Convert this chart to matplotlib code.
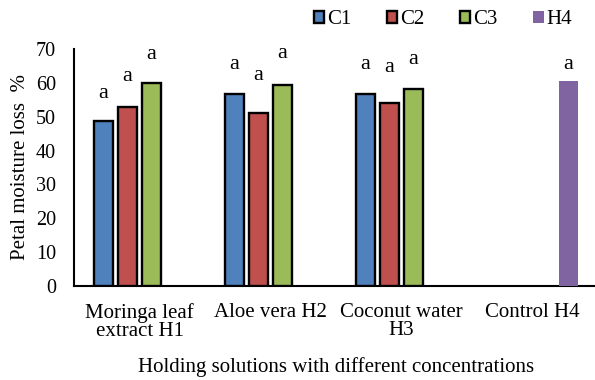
import numpy as np
import matplotlib.pyplot as plt
from matplotlib.patches import Patch

plt.rcParams['font.family'] = ['Liberation Serif', 'DejaVu Serif']

categories = ["Moringa leaf\nextract H1", "Aloe vera H2", "Coconut water\nH3", "Control H4"]
series = ["C1", "C2", "C3", "H4"]
values = {
    "C1": [48.8, 56.6, 56.7, None],
    "C2": [53.0, 51.0, 54.1, None],
    "C3": [60.0, 59.3, 58.1, None],
    "H4": [None, None, None, 60.6],
}
# heights of the significance letters
letter_y = {
    "C1": [57.0, 65.3, 65.3, None],
    "C2": [61.8, 62.3, 64.5, None],
    "C3": [68.3, 68.8, 66.9, None],
    "H4": [None, None, None, 65.3],
}
letters = "a"
colors = {"C1": "#4F81BD", "C2": "#C0504D", "C3": "#9BBB59", "H4": "#8064A2"}
edges = {"C1": "black", "C2": "black", "C3": "black", "H4": "none"}

fig = plt.figure(figsize=(5.95, 3.8), dpi=100)
ax = fig.add_axes([74 / 595, 94 / 380, 524 / 595, 237 / 380])

x = np.arange(len(categories))
slot = 24 / 131
w = 19 / 131
for k, s in enumerate(series):
    off = (k - 1.5) * slot
    for i, v in enumerate(values[s]):
        if v is None:
            continue
        ax.bar(x[i] + off, v, width=w, color=colors[s], edgecolor=edges[s],
               linewidth=1.7, zorder=3)
        ax.text(x[i] + off, letter_y[s][i], letters, ha="center", va="center",
                fontsize=16)

ax.set_xlim(-0.5, len(categories) - 0.5)
ax.set_ylim(0, 70)
ax.set_yticks(range(0, 71, 10))
ax.set_xticks(x)
ax.set_xticklabels(categories, fontsize=15, linespacing=0.95, multialignment="center")
ax.tick_params(axis="y", length=0, labelsize=14.5, pad=13)
ax.tick_params(axis="x", length=0, pad=12)
for sp in ["top", "right"]:
    ax.spines[sp].set_visible(False)
ax.spines["left"].set_linewidth(1.5)
ax.spines["bottom"].set_linewidth(1.5)

ax.set_ylabel("Petal moisture loss  %", fontsize=15, labelpad=4)
ax.set_xlabel("Holding solutions with different concentrations", fontsize=15, labelpad=12)

handles = [Patch(facecolor=colors[s], edgecolor=edges[s], linewidth=1.7) for s in series]
fig.legend(handles, series, loc="center", bbox_to_anchor=(443 / 595, 1 - 20 / 380),
           ncol=4, frameon=False, fontsize=15, handlelength=0.5, handleheight=0.5,
           handletextpad=0.15, columnspacing=1.7)

fig.savefig("out.png", dpi=100)
